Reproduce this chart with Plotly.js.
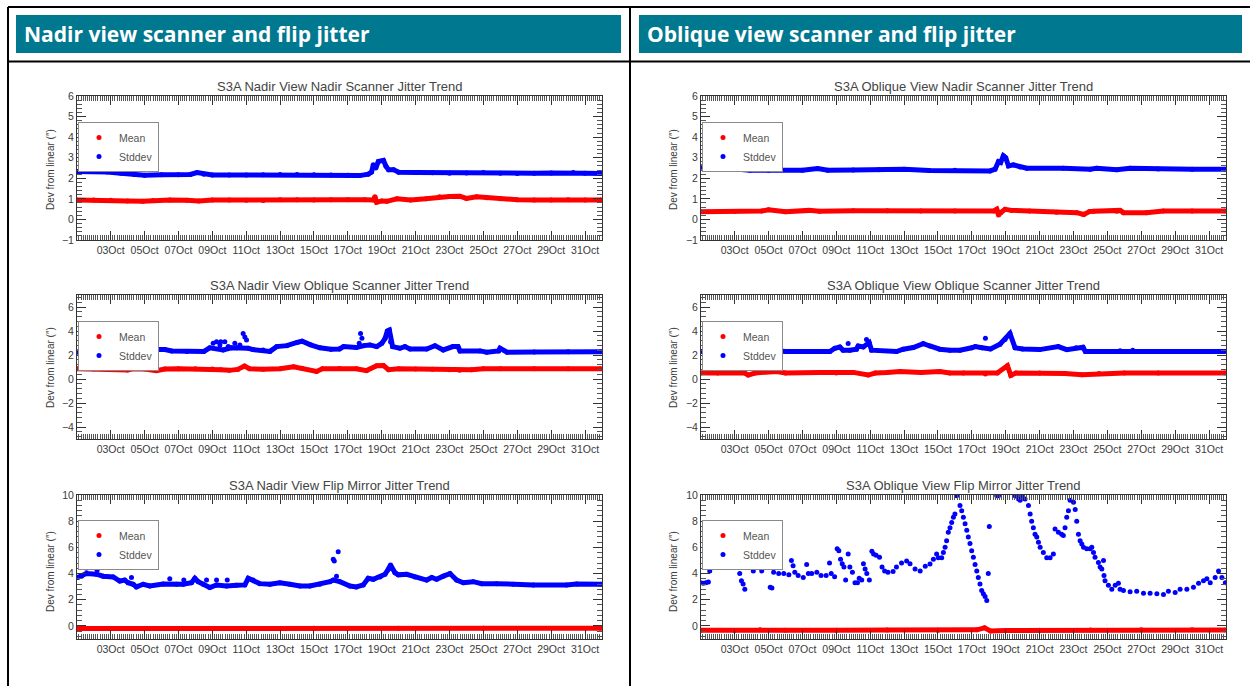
<!DOCTYPE html>
<html><head><meta charset="utf-8">
<script src="https://cdn.plot.ly/plotly-3.0.1.min.js"></script>
<style>html,body{margin:0;padding:0;background:#fff;}#chart{width:1250px;height:686px;}</style>
</head><body><div id="chart"></div>
<script>
// ---------------- DATA ----------------
const headerTitles = ['Nadir view scanner and flip jitter', 'Oblique view scanner and flip jitter'];
const panelTitles = [
  'S3A Nadir View Nadir Scanner Jitter Trend',
  'S3A Nadir View Oblique Scanner Jitter Trend',
  'S3A Nadir View Flip Mirror Jitter Trend',
  'S3A Oblique View Nadir Scanner Jitter Trend',
  'S3A Oblique View Oblique Scanner Jitter Trend',
  'S3A Oblique View Flip Mirror Jitter Trend'
];
const seriesNames = ['Mean', 'Stddev'];
const yAxisTitle = 'Dev from linear (\u2033)';
const xRange = ['2017-10-01 00:20:00', '2017-11-01 00:00:00'];
const xTick0 = '2017-10-03';

// day = day of October (1.0 = 01 Oct 00:00)
// Nadir view - nadir scanner
const nvnsMeanDay = [1.0,2.0,3.0,4.0,4.9,5.5,6.5,7.5,8.2,9.0,10,11,12,13,14,15,16,17,18,18.5,18.6,18.7,19.0,19.3,19.9,20.7,21.6,22.4,23.0,23.6,24.0,24.6,25.2,26,27,28,29,30,31,31.95];
const nvnsMeanVal = [0.95,0.95,0.93,0.90,0.88,0.92,0.94,0.93,0.90,0.94,0.95,0.93,0.92,0.96,0.96,0.95,0.96,0.96,0.96,0.95,1.10,0.84,0.90,0.88,1.00,0.94,1.00,1.10,1.12,1.13,1.02,1.10,1.05,1.00,0.96,0.94,0.95,0.96,0.95,0.95];
const nvnsStdDay = [1.0,2.0,2.8,3.6,4.4,5.0,6.0,7.0,7.7,8.1,8.5,9,10,11,12,13,14,15,16,17,17.7,18.2,18.4,18.5,18.65,18.8,19.1,19.25,19.4,19.7,20,21,22,23,24,25,26,27,28,29,30.3,31,31.95];
const nvnsStdVal = [2.33,2.34,2.30,2.24,2.18,2.15,2.17,2.17,2.19,2.28,2.20,2.16,2.16,2.16,2.17,2.18,2.18,2.17,2.16,2.15,2.13,2.20,2.30,2.66,2.50,2.82,2.87,2.58,2.42,2.42,2.29,2.28,2.27,2.24,2.26,2.28,2.25,2.23,2.25,2.26,2.28,2.24,2.23];

// Nadir view - oblique scanner
const nvosMeanDay = [1,2,3,4,4.3,5,5.7,6.2,7,8,9,9.5,10,10.5,10.9,11.2,12,13,13.8,14.3,15.15,15.5,16.5,17.5,18.1,18.7,19.1,19.4,20,21,22,23,23.6,24.3,25,26,28,30,31.95];
const nvosMeanVal = [0.85,0.83,0.85,0.75,0.85,0.83,0.70,0.83,0.85,0.85,0.84,0.78,0.72,0.80,1.08,0.85,0.82,0.85,1.02,0.90,0.63,0.85,0.87,0.85,0.70,1.10,1.12,0.77,0.85,0.83,0.82,0.78,0.72,0.78,0.85,0.86,0.85,0.85,0.85];
const nvosStdDay = [1,2,3,4,4.2,4.4,5,5.4,6.2,6.6,7.5,8.5,8.85,9.64,10.13,10.43,11.12,11.4,12,12.4,12.8,13.4,14,14.3,14.8,15.35,16,16.5,16.75,17.5,17.95,18.3,18.7,19,19.2,19.33,19.45,19.64,20.07,20.37,20.67,21.65,22.14,22.63,23.2,23.5,23.62,24.8,25.2,25.9,25.98,26.4,28,30,31.95];
const nvosStdVal = [2.25,2.28,2.30,2.55,2.60,2.35,2.33,2.45,2.45,2.33,2.30,2.30,2.60,2.42,2.60,2.60,2.56,2.45,2.42,2.30,2.70,2.78,3.05,3.15,2.85,2.60,2.48,2.50,2.70,2.62,2.78,2.84,2.70,2.97,3.39,4.00,4.08,2.70,2.56,2.70,2.50,2.50,2.78,2.42,2.70,2.70,2.34,2.34,2.23,2.34,2.56,2.23,2.25,2.27,2.28];
const nvosStdOutDay = [9.05,9.25,9.45,9.50,9.74,9.94,10.33,10.63,10.82,10.92,11.02,17.67,17.75,17.83,19.52];
const nvosStdOutVal = [2.97,3.10,2.84,3.10,3.10,2.70,2.97,2.84,3.80,3.50,3.25,2.97,3.80,3.39,3.11];

// Nadir view - flip mirror
const nvfmMeanDay = [1,5,10,15,20,25,31.95];
const nvfmMeanVal = [-0.20,-0.19,-0.19,-0.18,-0.18,-0.18,-0.18];
const nvfmStdDay = [1.05,1.28,1.57,2.16,2.56,3.15,3.54,3.83,4.03,4.33,4.52,4.92,5.31,6.1,6.89,7.28,7.77,7.97,8.17,8.46,8.85,9.25,9.84,10.43,10.92,11.12,11.41,11.8,12.4,12.99,13.58,14.17,14.76,15.35,15.94,16.14,16.53,17.12,17.5,17.91,18.2,18.5,18.9,19.19,19.39,19.52,19.78,19.98,20.47,20.96,21.65,21.95,22.24,22.63,23.03,23.42,23.82,24.4,24.9,25.78,26.77,27.95,29.9,30.5,31.95];
const nvfmStdVal = [3.70,3.80,4.00,3.95,3.80,3.74,3.43,3.50,3.30,3.18,2.98,3.18,3.05,3.20,3.18,3.18,3.30,3.64,3.38,3.18,2.93,3.13,3.05,3.10,3.13,3.64,3.50,3.23,3.18,3.30,3.18,3.05,3.05,3.18,3.38,3.50,3.38,3.05,2.98,3.13,3.64,3.56,3.74,3.94,4.33,4.66,4.07,3.90,3.94,3.74,3.50,3.70,3.56,3.80,4.00,3.50,3.30,3.38,3.23,3.23,3.18,3.13,3.13,3.20,3.18];
const nvfmStdOutDay = [1.57,2.20,4.23,6.49,7.32,8.66,9.25,9.88,16.14,16.20,16.33,16.43];
const nvfmStdOutVal = [4.40,4.25,3.70,3.60,3.50,3.50,3.50,3.50,5.10,4.96,3.80,5.67];

// Oblique view - nadir scanner
const ovnsMeanDay = [1,3,4.6,5,6,7.4,8,10,12,14,16,18.3,18.47,18.57,18.7,18.96,19.35,20.4,22,23.2,23.6,23.94,24.2,25.55,25.75,25.95,27.3,28.3,30,31.95];
const ovnsMeanVal = [0.37,0.38,0.41,0.47,0.37,0.44,0.40,0.42,0.42,0.41,0.41,0.41,0.49,0.21,0.33,0.49,0.44,0.41,0.35,0.33,0.24,0.38,0.40,0.40,0.44,0.33,0.33,0.41,0.41,0.41];
const ovnsStdDay = [1,2,2.7,3.9,5,7,7.9,8.5,10,11.5,13,14.5,16,18.07,18.37,18.57,18.7,18.86,19,19.16,19.45,19.85,20.24,22.4,23.98,24.37,25.55,26.34,28,30,31.95];
const ovnsStdVal = [2.55,2.55,2.47,2.39,2.39,2.39,2.47,2.39,2.40,2.41,2.44,2.38,2.39,2.36,2.44,2.81,2.77,3.09,3.00,2.60,2.65,2.55,2.49,2.49,2.44,2.49,2.41,2.49,2.45,2.44,2.44];

// Oblique view - oblique scanner
const ovosMeanDay = [1,2,3.6,3.8,4.2,5.47,6,8,9,10,10.88,11.3,12,12.76,14,15.1,15.7,16.5,17.8,18.5,19.1,19.3,19.6,21,22.5,23.5,24.5,26,28,31.95];
const ovosMeanVal = [0.50,0.50,0.50,0.33,0.50,0.63,0.50,0.55,0.50,0.55,0.33,0.50,0.55,0.63,0.55,0.63,0.50,0.50,0.42,0.50,1.10,0.30,0.50,0.50,0.45,0.35,0.45,0.50,0.50,0.50];
const ovosStdDay = [1,2.5,4,4.2,5.27,6,8.62,8.91,9.21,9.4,9.8,10.19,10.29,10.59,10.94,11.08,12.55,12.95,13.54,14.13,14.52,15.11,15.7,16.3,17,17.2,17.6,18.1,18.66,18.96,19.25,19.55,20,21,22.1,22.6,23.15,23.56,23.7,25,25.75,26.5,27,29,31.95];
const ovosStdVal = [2.29,2.29,2.29,2.35,2.40,2.29,2.29,2.56,2.67,2.40,2.40,2.48,2.75,2.67,3.03,2.40,2.29,2.48,2.62,2.95,2.75,2.48,2.40,2.40,2.60,2.70,2.60,2.50,2.90,3.30,3.80,2.60,2.50,2.45,2.70,2.45,2.60,2.65,2.30,2.30,2.35,2.40,2.30,2.30,2.30];
const ovosStdOutDay = [9.7,10.78,17.8];
const ovosStdOutVal = [2.95,3.30,3.40];

// Oblique view - flip mirror
const ovfmMeanDay = [1,3,4.5,6,9,12,15,17.3,17.75,18.1,19,21,24,27,30,31.95];
const ovfmMeanVal = [-0.33,-0.35,-0.30,-0.33,-0.33,-0.32,-0.33,-0.30,-0.15,-0.38,-0.36,-0.34,-0.32,-0.30,-0.30,-0.32];
const ovfmStdDay = [
  1.0,1.15,1.3,1.45,1.53,1.6,1.75,1.9,2.1,2.3,
  2.5,2.7,2.9,3.1,3.2,3.3,3.4,3.5,3.6,3.7,
  3.9,4.0,4.1,4.2,4.4,4.6,4.8,4.9,5.1,5.2,
  5.3,5.6,5.9,6.2,6.35,6.45,6.55,6.75,7.05,7.25,
  7.35,7.55,7.85,8.1,8.4,8.6,8.7,8.9,9.05,9.15,
  9.25,9.35,9.45,9.55,9.7,9.8,9.95,10.1,10.25,10.35,
  10.5,10.6,10.7,10.8,10.95,11.1,11.2,11.35,11.55,11.7,
  11.85,12.05,12.35,12.55,12.85,13.15,13.35,13.65,13.95,14.25,
  14.53,14.73,14.92,15.02,15.22,15.32,15.42,15.51,15.61,15.71,
  15.81,15.91,16.0,16.1,16.3,16.4,16.5,16.6,16.7,16.79,
  16.89,16.99,17.09,17.19,17.29,17.38,17.48,17.58,17.68,17.78,
  17.88,17.97,18.03,18.47,18.57,19.55,19.65,19.75,19.85,19.94,
  20.14,20.34,20.44,20.53,20.63,20.73,20.83,20.93,21.03,21.22,
  21.42,21.62,21.81,21.91,22.11,22.3,22.4,22.5,22.6,22.7,
  22.8,23.0,23.1,23.19,23.29,23.39,23.49,23.59,23.78,23.98,
  24.08,24.18,24.27,24.47,24.57,24.67,24.77,24.8,24.86,25.06,
  25.26,25.46,25.65,25.75,25.95,26.34,26.73,27.13,27.52,27.92,
  28.31,28.6,29.0,29.29,29.69,30.08,30.38,30.67,30.87,31.07,
  31.36,31.56,31.76,31.96];
const ovfmStdVal = [
  3.3,3.25,3.3,3.35,4.2,4.7,4.85,4.7,4.65,4.7,
  4.6,5.0,4.7,4.85,4.5,4.0,3.45,3.2,2.8,4.95,
  4.95,4.6,4.2,5.25,4.6,4.2,4.5,4.7,2.95,2.9,
  4.1,4.0,4.0,3.9,5.0,4.6,4.1,3.85,3.7,4.7,
  4.0,4.0,4.1,3.85,3.85,4.8,4.0,3.75,5.9,5.75,
  5.1,4.75,4.5,3.5,5.5,4.5,4.1,3.3,3.3,3.65,
  3.5,4.75,4.35,4.0,3.5,5.7,5.5,5.4,5.25,4.5,
  4.2,4.1,4.15,4.5,4.8,4.95,4.75,4.35,4.2,4.55,
  4.73,5.1,5.5,5.2,5.2,5.6,6.0,6.5,7.15,7.5,
  7.9,8.3,8.55,9.95,9.2,8.8,8.3,7.8,7.3,6.8,
  6.3,5.75,5.25,4.7,4.2,3.7,3.2,2.7,2.45,2.25,
  1.95,4.0,7.6,9.95,9.95,9.95,9.9,9.7,9.6,9.95,
  9.7,9.2,8.55,8.0,7.5,7.0,6.8,6.4,6.0,5.6,
  5.2,5.2,5.5,7.4,7.15,7.0,6.9,7.5,8.3,8.8,
  9.6,9.45,8.9,8.0,7.0,6.5,6.25,6.0,5.9,5.9,
  6.0,5.6,5.25,4.85,4.5,4.35,5.0,3.85,3.45,3.1,
  2.8,3.1,3.25,2.8,2.7,2.6,2.65,2.5,2.5,2.45,
  2.4,2.65,2.55,2.8,2.8,2.95,3.25,3.45,3.6,3.3,
  3.7,4.2,3.7,3.3];

// ---------------- BUILD ----------------
const W = 1250, H = 686;
const FONT = 'Liberation Sans, Arial, sans-serif';
const RED = '#ff0000', BLUE = '#0000ff', TEXT = '#3a3a3a';
const DAY_MS = 86400000, ORIGIN = Date.UTC(2017, 9, 1);
function toDates(days) {
  return days.map(d => new Date(ORIGIN + (d - 1) * DAY_MS).toISOString().slice(0, 19).replace('T', ' '));
}
const px = x => x / W, py = y => 1 - y / H;

const colX = [[77, 602], [701, 1226]];
const rowY = [[96, 240], [295, 439], [495, 639]];
const legX = [78, 702], legY = [122, 321, 520];
const yTitleX = [50, 673], yTitleY = [170, 368, 572], titleY = [86, 285, 485];

const panels = [
  {col:0,row:0,yr:[-1,6],dt:1,mdt:0.2, mean:[nvnsMeanDay,nvnsMeanVal], std:[nvnsStdDay,nvnsStdVal], stdLine:true},
  {col:0,row:1,yr:[-5,7],dt:2,mdt:0.4, mean:[nvosMeanDay,nvosMeanVal], std:[nvosStdDay,nvosStdVal], out:[nvosStdOutDay,nvosStdOutVal], stdLine:true},
  {col:0,row:2,yr:[-1,10],dt:2,mdt:0.4, mean:[nvfmMeanDay,nvfmMeanVal], std:[nvfmStdDay,nvfmStdVal], out:[nvfmStdOutDay,nvfmStdOutVal], stdLine:true},
  {col:1,row:0,yr:[-1,6],dt:1,mdt:0.2, mean:[ovnsMeanDay,ovnsMeanVal], std:[ovnsStdDay,ovnsStdVal], stdLine:true},
  {col:1,row:1,yr:[-5,7],dt:2,mdt:0.4, mean:[ovosMeanDay,ovosMeanVal], std:[ovosStdDay,ovosStdVal], out:[ovosStdOutDay,ovosStdOutVal], stdLine:true},
  {col:1,row:2,yr:[-1,10],dt:2,mdt:0.4, mean:[ovfmMeanDay,ovfmMeanVal], std:[ovfmStdDay,ovfmStdVal], stdLine:false}
];

const traces = [];
const layout = {
  width: W, height: H, margin: {l:0, r:0, t:0, b:0},
  paper_bgcolor: '#fff', plot_bgcolor: '#fff', showlegend: true,
  font: {family: FONT, color: TEXT},
  shapes: [], annotations: []
};

panels.forEach((p, i) => {
  const n = i === 0 ? '' : String(i + 1);
  const xa = 'x' + n, ya = 'y' + n, lg = 'legend' + n;
  const mk = (color) => ({color: color, size: 5});
  traces.push({type:'scatter', mode:'lines', x:toDates(p.mean[0]), y:p.mean[1], xaxis:xa, yaxis:ya, legend:lg,
    line:{color:RED, width:5}, showlegend:false, hoverinfo:'skip'});
  traces.push({type:'scatter', mode:'markers', name:seriesNames[0], x:toDates(p.mean[0]), y:p.mean[1], xaxis:xa, yaxis:ya, legend:lg,
    marker:mk(RED)});
  if (p.stdLine) {
    traces.push({type:'scatter', mode:'lines', x:toDates(p.std[0]), y:p.std[1], xaxis:xa, yaxis:ya, legend:lg,
      line:{color:BLUE, width:5}, showlegend:false, hoverinfo:'skip'});
  }
  traces.push({type:'scatter', mode:'markers', name:seriesNames[1], x:toDates(p.std[0]), y:p.std[1], xaxis:xa, yaxis:ya, legend:lg,
    marker:mk(BLUE)});
  if (p.out) {
    traces.push({type:'scatter', mode:'markers', x:toDates(p.out[0]), y:p.out[1], xaxis:xa, yaxis:ya, legend:lg,
      marker:mk(BLUE), showlegend:false});
  }
  const cx = colX[p.col], ry = rowY[p.row];
  layout['xaxis' + n] = {
    domain:[px(cx[0]), px(cx[1])], anchor:ya, type:'date', range:xRange,
    tick0:xTick0, dtick:2*DAY_MS, tickformat:'%d%b',
    ticks:'inside', ticklen:9, tickwidth:1, tickcolor:'#333',
    showline:true, linecolor:'#333', linewidth:1, mirror:'allticks',
    showgrid:false, zeroline:false,
    tickfont:{family:FONT, size:10.5, color:TEXT},
    minor:{dtick:3*3600*1000, ticks:'inside', ticklen:5, tickcolor:'#555', showgrid:false}
  };
  layout['yaxis' + n] = {
    domain:[py(ry[1]), py(ry[0])], anchor:xa, range:p.yr, tick0:0, dtick:p.dt,
    ticks:'inside', ticklen:9, tickwidth:1, tickcolor:'#333',
    showline:true, linecolor:'#333', linewidth:1, mirror:'allticks',
    showgrid:false, zeroline:false,
    tickfont:{family:FONT, size:10.5, color:TEXT},
    minor:{dtick:p.mdt, ticks:'inside', ticklen:5, tickcolor:'#555', showgrid:false}
  };
  layout[lg] = {
    x:px(legX[p.col]), y:py(legY[p.row]), xanchor:'left', yanchor:'top',
    bgcolor:'#ffffff', bordercolor:'#8a8a8a', borderwidth:1,
    font:{family:FONT, size:10.5, color:'#555'}, itemwidth:30, tracegroupgap:0
  };
  layout.annotations.push({xref:'paper', yref:'paper', x:px((cx[0]+cx[1])/2), y:py(titleY[p.row]),
    xanchor:'center', yanchor:'middle', showarrow:false, text:panelTitles[i],
    font:{family:FONT, size:13, color:'#444'}});
  layout.annotations.push({xref:'paper', yref:'paper', x:px(yTitleX[p.col]), y:py(yTitleY[p.row]),
    xanchor:'center', yanchor:'middle', showarrow:false, text:yAxisTitle, textangle:-90,
    font:{family:FONT, size:10, color:TEXT}});
});

// header bars and table borders
[[16, 621], [639, 1242]].forEach((b, j) => {
  layout.shapes.push({type:'rect', xref:'paper', yref:'paper', x0:px(b[0]), x1:px(b[1]), y0:py(53), y1:py(15),
    fillcolor:'#00788f', line:{width:0}, layer:'below'});
  layout.annotations.push({xref:'paper', yref:'paper', x:px(b[0] + 6), y:py(34), xanchor:'left', yanchor:'middle',
    showarrow:false, text:headerTitles[j], font:{family:'Open Sans, Noto Sans, sans-serif', size:21, color:'#ffffff', weight:'bold'}});
});
const bl = {color:'#000', width:2};
layout.shapes.push({type:'line', xref:'paper', yref:'paper', x0:px(8), x1:px(1250), y0:py(7), y1:py(7), line:bl});
layout.shapes.push({type:'line', xref:'paper', yref:'paper', x0:px(8), x1:px(1250), y0:py(61.5), y1:py(61.5), line:bl});
layout.shapes.push({type:'line', xref:'paper', yref:'paper', x0:px(8), x1:px(8), y0:py(7), y1:py(686), line:bl});
layout.shapes.push({type:'line', xref:'paper', yref:'paper', x0:px(630), x1:px(630), y0:py(7), y1:py(686), line:bl});

Plotly.newPlot('chart', traces, layout, {displayModeBar:false, staticPlot:true});
</script></body></html>
